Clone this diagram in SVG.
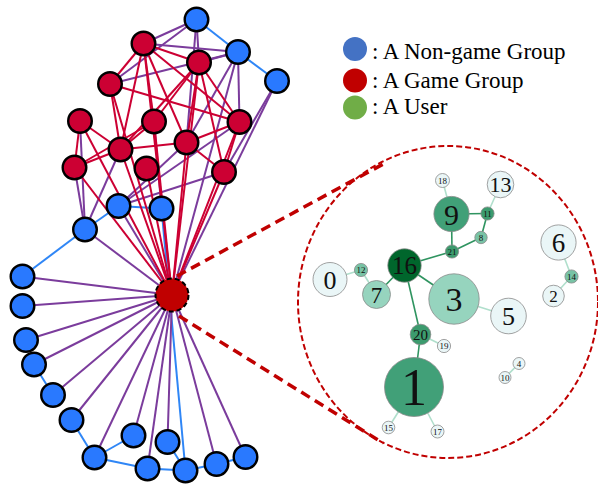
<svg xmlns="http://www.w3.org/2000/svg" width="598" height="485" viewBox="0 0 598 485">
<style>
.er{stroke:#cc0033;stroke-width:2;fill:none}
.ep{stroke:#7b3c9c;stroke-width:2;fill:none}
.eb{stroke:#2f86f6;stroke-width:2;fill:none}
.nb{fill:#2979ff;stroke:#000;stroke-width:2.4}
.nr{fill:#cc0033;stroke:#000;stroke-width:2.4}
.gm{stroke:#2f9460;stroke-width:1.6}
.gl{stroke:#b0dfcc;stroke-width:1.6}
.gn{stroke:#8a8a8a;stroke-width:0.8}
.lab{font-family:"Liberation Serif","Times New Roman",serif;fill:#111;text-anchor:middle}
.leg{font-family:"Liberation Serif","Times New Roman",serif;font-size:23px;fill:#000}
</style>
<rect width="598" height="485" fill="#fff"/>
<g id="connectors">
<!-- blue edges -->
<line class="eb" x1="196.5" y1="19.5" x2="238" y2="52"/>
<line class="eb" x1="238" y1="52" x2="277" y2="81"/>
<line class="eb" x1="118.5" y1="206" x2="161.5" y2="208.5"/>
<line class="eb" x1="118.5" y1="206" x2="85" y2="229.5"/>
<line class="eb" x1="85" y1="229.5" x2="22.5" y2="276.5"/>
<line class="eb" x1="34" y1="364.5" x2="53" y2="395"/>
<line class="eb" x1="71.5" y1="420" x2="94.5" y2="457.5"/>
<line class="eb" x1="94.5" y1="457.5" x2="133.5" y2="435.5"/>
<line class="eb" x1="94.5" y1="457.5" x2="147.5" y2="468.5"/>
<line class="eb" x1="147.5" y1="468.5" x2="185.5" y2="470.5"/>
<line class="eb" x1="167.5" y1="442" x2="185.5" y2="470.5"/>
<line class="eb" x1="185.5" y1="470.5" x2="216.5" y2="464"/>
<line class="eb" x1="216.5" y1="464" x2="245.5" y2="457"/>
<line class="eb" x1="161.5" y1="208.5" x2="185.5" y2="470.5"/>
<!-- purple edges -->
<line class="ep" x1="196.5" y1="19.5" x2="143.5" y2="43.5"/>
<line class="ep" x1="196.5" y1="19.5" x2="110" y2="84"/>
<line class="ep" x1="196.5" y1="19.5" x2="199" y2="62.5"/>
<line class="ep" x1="196.5" y1="19.5" x2="186.5" y2="142.5"/>
<line class="ep" x1="143.5" y1="43.5" x2="238" y2="52"/>
<line class="ep" x1="110" y1="84" x2="238" y2="52"/>
<line class="ep" x1="199" y1="62.5" x2="238" y2="52"/>
<line class="ep" x1="238" y1="52" x2="239.5" y2="122"/>
<line class="ep" x1="238" y1="52" x2="186.5" y2="142.5"/>
<line class="ep" x1="238" y1="52" x2="172" y2="295"/>
<line class="ep" x1="277" y1="81" x2="224" y2="172"/>
<line class="ep" x1="277" y1="81" x2="172" y2="295"/>
<line class="ep" x1="80" y1="121" x2="85" y2="229.5"/>
<line class="ep" x1="74.5" y1="167.5" x2="85" y2="229.5"/>
<line class="ep" x1="120.5" y1="149.5" x2="85" y2="229.5"/>
<line class="ep" x1="239.5" y1="122" x2="118.5" y2="206"/>
<line class="ep" x1="224" y1="172" x2="118.5" y2="206"/>
<line class="ep" x1="186.5" y1="142.5" x2="118.5" y2="206"/>
<line class="ep" x1="154" y1="121.5" x2="161.5" y2="208.5"/>
<line class="ep" x1="118.5" y1="206" x2="172" y2="295"/>
<line class="ep" x1="85" y1="229.5" x2="172" y2="295"/>
<line class="ep" x1="172" y1="295" x2="22.5" y2="276.5"/>
<line class="ep" x1="172" y1="295" x2="22.5" y2="306"/>
<line class="ep" x1="172" y1="295" x2="26" y2="340"/>
<line class="ep" x1="172" y1="295" x2="34" y2="364.5"/>
<line class="ep" x1="172" y1="295" x2="53" y2="395"/>
<line class="ep" x1="172" y1="295" x2="71.5" y2="420"/>
<line class="ep" x1="172" y1="295" x2="133.5" y2="435.5"/>
<line class="ep" x1="172" y1="295" x2="167.5" y2="442"/>
<line class="ep" x1="172" y1="295" x2="94.5" y2="457.5"/>
<line class="ep" x1="172" y1="295" x2="147.5" y2="468.5"/>
<line class="ep" x1="172" y1="295" x2="216.5" y2="464"/>
<line class="ep" x1="172" y1="295" x2="245.5" y2="457"/>
<!-- red edges -->
<line class="er" x1="143.5" y1="43.5" x2="199" y2="62.5"/>
<line class="er" x1="143.5" y1="43.5" x2="110" y2="84"/>
<line class="er" x1="143.5" y1="43.5" x2="120.5" y2="149.5"/>
<line class="er" x1="143.5" y1="43.5" x2="154" y2="121.5"/>
<line class="er" x1="143.5" y1="43.5" x2="186.5" y2="142.5"/>
<line class="er" x1="143.5" y1="43.5" x2="239.5" y2="122"/>
<line class="er" x1="199" y1="62.5" x2="154" y2="121.5"/>
<line class="er" x1="199" y1="62.5" x2="186.5" y2="142.5"/>
<line class="er" x1="199" y1="62.5" x2="239.5" y2="122"/>
<line class="er" x1="199" y1="62.5" x2="224" y2="172"/>
<line class="er" x1="199" y1="62.5" x2="120.5" y2="149.5"/>
<line class="er" x1="110" y1="84" x2="239.5" y2="122"/>
<line class="er" x1="110" y1="84" x2="120.5" y2="149.5"/>
<line class="er" x1="80" y1="121" x2="120.5" y2="149.5"/>
<line class="er" x1="80" y1="121" x2="74.5" y2="167.5"/>
<line class="er" x1="154" y1="121.5" x2="120.5" y2="149.5"/>
<line class="er" x1="154" y1="121.5" x2="74.5" y2="167.5"/>
<line class="er" x1="120.5" y1="149.5" x2="186.5" y2="142.5"/>
<line class="er" x1="120.5" y1="149.5" x2="74.5" y2="167.5"/>
<line class="er" x1="186.5" y1="142.5" x2="239.5" y2="122"/>
<line class="er" x1="186.5" y1="142.5" x2="224" y2="172"/>
<line class="er" x1="239.5" y1="122" x2="224" y2="172"/>
<line class="er" x1="143.5" y1="43.5" x2="172" y2="295"/>
<line class="er" x1="199" y1="62.5" x2="172" y2="295"/>
<line class="er" x1="110" y1="84" x2="172" y2="295"/>
<line class="er" x1="80" y1="121" x2="172" y2="295"/>
<line class="er" x1="154" y1="121.5" x2="172" y2="295"/>
<line class="er" x1="239.5" y1="122" x2="172" y2="295"/>
<line class="er" x1="120.5" y1="149.5" x2="172" y2="295"/>
<line class="er" x1="186.5" y1="142.5" x2="172" y2="295"/>
<line class="er" x1="74.5" y1="167.5" x2="172" y2="295"/>
<line class="er" x1="146.5" y1="168.5" x2="172" y2="295"/>
<line class="er" x1="224" y1="172" x2="172" y2="295"/>
<!-- zoom connectors -->
<line x1="177" y1="276" x2="387" y2="162" stroke="#c00000" stroke-width="3.5" stroke-dasharray="10,6"/>
<line x1="179" y1="316" x2="383" y2="443" stroke="#c00000" stroke-width="3.5" stroke-dasharray="10,6"/>
<!-- right-side edges -->
<line class="gl" x1="442.5" y1="180.5" x2="451.5" y2="214"/>
<line class="gl" x1="500.5" y1="184.5" x2="487.5" y2="213.5"/>
<line class="gm" x1="451.5" y1="214" x2="487.5" y2="213.5" stroke="#4fac80"/>
<line class="gm" x1="487.5" y1="213.5" x2="481" y2="237.5" stroke="#4fac80"/>
<line class="gm" x1="451.5" y1="214" x2="452" y2="251.5" stroke="#4fac80"/>
<line class="gm" x1="452" y1="251.5" x2="481" y2="237.5" stroke="#6cbc95"/>
<line class="gm" x1="404.5" y1="265.5" x2="452" y2="251.5"/>
<line class="gm" x1="404.5" y1="265.5" x2="376.5" y2="294.5"/>
<line class="gm" x1="404.5" y1="265.5" x2="454" y2="299"/>
<line class="gm" x1="404.5" y1="265.5" x2="420.5" y2="334.5"/>
<line class="gm" x1="420.5" y1="334.5" x2="414" y2="387"/>
<line class="gl" x1="330" y1="279.5" x2="361" y2="270"/>
<line class="gl" x1="361" y1="270" x2="376.5" y2="294.5"/>
<line class="gl" x1="454" y1="299" x2="508.5" y2="316"/>
<line class="gl" x1="558.5" y1="242.5" x2="571.5" y2="276.5"/>
<line class="gl" x1="571.5" y1="276.5" x2="553.5" y2="296"/>
<line class="gl" x1="420.5" y1="334.5" x2="444" y2="346"/>
<line class="gl" x1="414" y1="387" x2="388.5" y2="427.5"/>
<line class="gl" x1="414" y1="387" x2="437.5" y2="431.5"/>
<line class="gl" x1="505" y1="377.5" x2="519" y2="363.5"/>
</g>
<ellipse cx="448" cy="302" rx="150" ry="156" fill="none" stroke="#c00000" stroke-width="2" stroke-dasharray="6,3"/>
<!-- left network nodes -->
<g id="B1"><circle class="nb" cx="196.5" cy="19.5" r="11.8"/></g>
<g id="B2"><circle class="nb" cx="238" cy="52" r="11.8"/></g>
<g id="B3"><circle class="nb" cx="277" cy="81" r="11.8"/></g>
<g id="R1"><circle class="nr" cx="143.5" cy="43.5" r="11.8"/></g>
<g id="R2"><circle class="nr" cx="199" cy="62.5" r="11.8"/></g>
<g id="R3"><circle class="nr" cx="110" cy="84" r="11.8"/></g>
<g id="R4"><circle class="nr" cx="80" cy="121" r="11.8"/></g>
<g id="R5"><circle class="nr" cx="154" cy="121.5" r="11.8"/></g>
<g id="R6"><circle class="nr" cx="239.5" cy="122" r="11.8"/></g>
<g id="R7"><circle class="nr" cx="120.5" cy="149.5" r="11.8"/></g>
<g id="R8"><circle class="nr" cx="186.5" cy="142.5" r="11.8"/></g>
<g id="R9"><circle class="nr" cx="74.5" cy="167.5" r="11.8"/></g>
<g id="R10"><circle class="nr" cx="146.5" cy="168.5" r="11.8"/></g>
<g id="R11"><circle class="nr" cx="224" cy="172" r="11.8"/></g>
<g id="B4"><circle class="nb" cx="118.5" cy="206" r="11.8"/></g>
<g id="B5"><circle class="nb" cx="161.5" cy="208.5" r="11.8"/></g>
<g id="B6"><circle class="nb" cx="85" cy="229.5" r="11.8"/></g>
<g id="L1"><circle class="nb" cx="22.5" cy="276.5" r="11.8"/></g>
<g id="L2"><circle class="nb" cx="22.5" cy="306" r="11.8"/></g>
<g id="L3"><circle class="nb" cx="26" cy="340" r="11.8"/></g>
<g id="L4"><circle class="nb" cx="34" cy="364.5" r="11.8"/></g>
<g id="L5"><circle class="nb" cx="53" cy="395" r="11.8"/></g>
<g id="L6"><circle class="nb" cx="71.5" cy="420" r="11.8"/></g>
<g id="L7"><circle class="nb" cx="133.5" cy="435.5" r="11.8"/></g>
<g id="L8"><circle class="nb" cx="167.5" cy="442" r="11.8"/></g>
<g id="L9"><circle class="nb" cx="94.5" cy="457.5" r="11.8"/></g>
<g id="L10"><circle class="nb" cx="147.5" cy="468.5" r="11.8"/></g>
<g id="L11"><circle class="nb" cx="185.5" cy="470.5" r="11.8"/></g>
<g id="L12"><circle class="nb" cx="216.5" cy="464" r="11.8"/></g>
<g id="L13"><circle class="nb" cx="245.5" cy="457" r="11.8"/></g>
<g id="center"><circle cx="172" cy="295" r="16.5" fill="#c00000" stroke="#000" stroke-width="2" stroke-dasharray="5,3"/></g>
<!-- right zoomed nodes -->
<g id="n18"><circle class="gn" cx="442.5" cy="180.5" r="7" fill="#eaf6f7"/><text class="lab" x="442.5" y="183.5" font-size="9">18</text></g>
<g id="n13"><circle class="gn" cx="500.5" cy="184.5" r="13.3" fill="#eaf6f7"/><text class="lab" x="500.5" y="192" font-size="22">13</text></g>
<g id="n9"><circle class="gn" cx="451.5" cy="214" r="17.6" fill="#41a078"/><text class="lab" x="451.5" y="224.5" font-size="30">9</text></g>
<g id="n11"><circle class="gn" cx="487.5" cy="213.5" r="6.6" fill="#3c9b6e"/><text class="lab" x="487.5" y="216.5" font-size="9">11</text></g>
<g id="n8"><circle class="gn" cx="481" cy="237.5" r="6.2" fill="#78c3a5"/><text class="lab" x="481" y="240.5" font-size="9">8</text></g>
<g id="n21"><circle class="gn" cx="452" cy="251.5" r="6.6" fill="#3c9b6e"/><text class="lab" x="452" y="254.5" font-size="9">21</text></g>
<g id="n16"><circle class="gn" cx="404.5" cy="265.5" r="16.7" fill="#00662c"/><text class="lab" x="404.5" y="274" font-size="25">16</text></g>
<g id="n0"><circle class="gn" cx="330" cy="279.5" r="17" fill="#eaf6f7"/><text class="lab" x="330" y="288.5" font-size="26">0</text></g>
<g id="n12"><circle class="gn" cx="361" cy="270" r="6.6" fill="#78c3a5"/><text class="lab" x="361" y="273" font-size="9">12</text></g>
<g id="n7"><circle class="gn" cx="376.5" cy="294.5" r="14" fill="#96d4be"/><text class="lab" x="376.5" y="302.5" font-size="23">7</text></g>
<g id="n3"><circle class="gn" cx="454" cy="299" r="25.2" fill="#96d4be"/><text class="lab" x="454" y="311" font-size="34">3</text></g>
<g id="n6"><circle class="gn" cx="558.5" cy="242.5" r="17.6" fill="#eaf6f7"/><text class="lab" x="558.5" y="252" font-size="27">6</text></g>
<g id="n14"><circle class="gn" cx="571.5" cy="276.5" r="6.6" fill="#78c3a5"/><text class="lab" x="571.5" y="279.5" font-size="9">14</text></g>
<g id="n2"><circle class="gn" cx="553.5" cy="296" r="10.8" fill="#eaf6f7"/><text class="lab" x="553.5" y="302" font-size="17">2</text></g>
<g id="n5"><circle class="gn" cx="508.5" cy="316" r="17.8" fill="#eaf6f7"/><text class="lab" x="508.5" y="325" font-size="26">5</text></g>
<g id="n20"><circle class="gn" cx="420.5" cy="334.5" r="10.3" fill="#3c9b6e"/><text class="lab" x="420.5" y="339.5" font-size="15">20</text></g>
<g id="n19"><circle class="gn" cx="444" cy="346" r="6.6" fill="#eaf6f7"/><text class="lab" x="444" y="349" font-size="9">19</text></g>
<g id="n1"><circle class="gn" cx="414" cy="387" r="29.5" fill="#41a078"/><text class="lab" x="414" y="405" font-size="52">1</text></g>
<g id="n15"><circle class="gn" cx="388.5" cy="427.5" r="6.3" fill="#eaf6f7"/><text class="lab" x="388.5" y="430.5" font-size="9">15</text></g>
<g id="n17"><circle class="gn" cx="437.5" cy="431.5" r="6.5" fill="#eaf6f7"/><text class="lab" x="437.5" y="434.5" font-size="9">17</text></g>
<g id="n4"><circle class="gn" cx="519" cy="363.5" r="6" fill="#eaf6f7"/><text class="lab" x="519" y="366.5" font-size="9">4</text></g>
<g id="n10"><circle class="gn" cx="505" cy="377.5" r="6" fill="#eaf6f7"/><text class="lab" x="505" y="380.5" font-size="9">10</text></g>
<!-- legend -->
<g id="legend">
<circle cx="355" cy="49" r="12" fill="#4472c4"/>
<circle cx="355" cy="80.5" r="12" fill="#c00000"/>
<circle cx="355" cy="107.5" r="12" fill="#70ad47"/>
<text class="leg" x="372" y="59">: A Non-game Group</text>
<text class="leg" x="372" y="87.5">: A Game Group</text>
<text class="leg" x="372" y="114">: A User</text>
</g>
</svg>
